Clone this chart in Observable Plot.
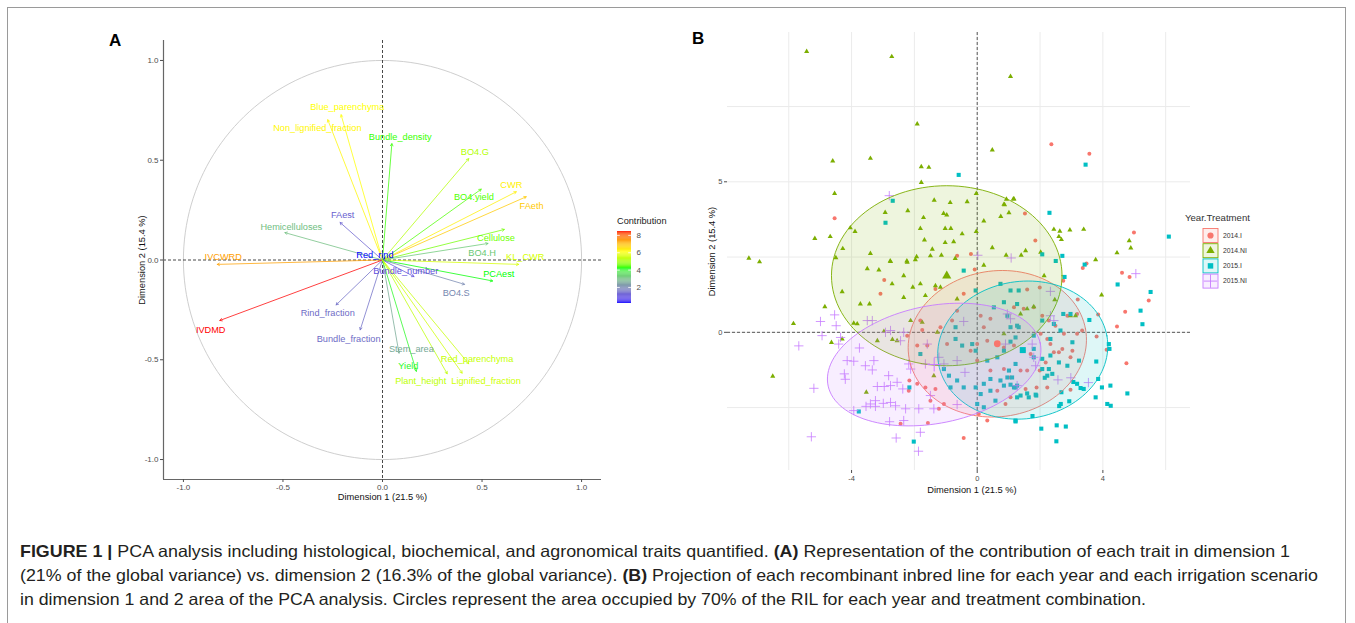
<!DOCTYPE html>
<html><head><meta charset="utf-8">
<script src="https://cdn.jsdelivr.net/npm/d3@7"></script>
<script src="https://cdn.jsdelivr.net/npm/@observablehq/plot@0.6"></script>
<style>
body{margin:0;background:#fff;font-family:"Liberation Sans",Arial,sans-serif;}
#fig{position:relative;width:1355px;height:623px;overflow:hidden;background:#fff;}
</style></head><body><div id="fig"></div>
<script>
// ---------- Panel A data: variable coordinates on Dim1 / Dim2 ----------
const varNames = ["Blue_parenchyma","Non_lignified_fraction","Bundle_density","BO4.G","BO4.yield","CWR","FAeth","Cellulose","BO4.H","KL_CWR","PCAest","BO4.S","Bundle_number","Red_rind","FAest","Hemicelluloses","IVCWRD","IVDMD","Rind_fraction","Bundle_fraction","Stem_area","Yield","Plant_height","Lignified_fraction","Red_parenchyma"];
const varDim1 = [-0.208,-0.275,0.047,0.433,0.496,0.672,0.722,0.612,0.530,0.684,0.553,0.412,0.158,0.012,-0.213,-0.490,-0.830,-0.817,-0.233,-0.112,0.083,0.170,0.325,0.400,0.433];
const varDim2 = [0.728,0.703,0.583,0.508,0.355,0.342,0.317,0.153,0.083,-0.022,-0.105,-0.122,-0.083,0.010,0.188,0.137,-0.022,-0.303,-0.225,-0.350,-0.467,-0.558,-0.570,-0.567,-0.520];
const varContrib = [6.1,6.2,4.3,5.2,4.4,6.3,6.8,4.6,3.2,5.6,4.2,2.0,1.0,0.15,1.3,3.0,7.3,8.45,1.5,1.5,2.6,4.1,5.3,5.5,5.4];
const varLabelDim1 = [-0.177,-0.327,0.089,0.464,0.459,0.647,0.749,0.570,0.500,0.717,0.584,0.370,0.117,-0.038,-0.200,-0.458,-0.800,-0.863,-0.275,-0.170,0.145,0.130,0.192,0.520,0.475];
const varLabelDim2 = [0.765,0.660,0.615,0.540,0.315,0.377,0.272,0.109,0.037,0.014,-0.069,-0.165,-0.054,0.025,0.224,0.167,0.014,-0.350,-0.265,-0.395,-0.445,-0.529,-0.609,-0.609,-0.497];
const axisTicksA = [-1, -0.5, 0, 0.5, 1];
const contribTicks = [2, 4, 6, 8];
const contribStops = [0.15, 4.2, 6.1, 8.45];
const contribStopColors = ["#0000ff", "#00ff00", "#ffff00", "#ff0000"];

// ---------- Panel B data: individuals per Year.Treatment ----------
const groups = ["2014.I", "2014.NI", "2015.I", "2015.NI"];
const pts2014I = [[-4.54,3.79],[-0.64,2.54],[-0.20,2.60],[-0.08,2.09],[2.36,6.25],[3.57,5.93],[4.99,3.32],[1.52,3.95],[1.85,3.05],[3.48,2.29],[3.36,2.14],[4.61,1.98],[4.85,1.84],[5.46,1.06],[4.71,0.68],[4.45,0.19],[3.85,0.59],[2.74,1.71],[1.99,1.49],[1.59,1.42],[3.20,1.09],[4.75,-1.03],[4.12,-0.58],[3.80,-0.14],[-2.96,1.74],[-3.08,1.28],[-1.33,1.44],[-1.81,0.39],[-1.75,0.08],[-2.23,-0.11],[-1.59,-0.44],[-1.91,-0.44],[-2.16,-1.60],[-1.91,-1.71],[-2.18,-1.94],[-1.65,-1.83],[-1.33,-1.88],[-1.49,-2.27],[-1.22,-2.54],[-1.06,-2.38],[-2.44,-3.04],[-1.57,-3.01],[-0.43,-3.51],[-0.96,-0.39],[-1.17,0.17],[-0.80,0.39],[-0.64,0.72],[-0.43,1.28],[0.11,0.55],[0.21,0.17],[0.42,0.45],[0.00,-0.39],[0.32,-0.28],[-0.21,-0.61],[0.00,-0.94],[0.42,-1.27],[0.64,-1.94],[0.32,-2.93],[0.05,-2.71],[1.06,-2.16],[1.17,0.83],[1.48,0.78],[1.80,0.83],[2.02,-0.05],[2.23,-0.22],[2.33,-0.39],[2.44,-0.66],[2.18,-1.00],[1.99,-1.27],[1.70,-0.72],[1.48,-0.61],[1.17,-0.44],[0.85,-0.50],[0.85,-1.22],[1.38,-1.27],[1.59,-1.27],[1.06,-1.50],[2.23,-1.83],[1.54,-1.88],[0.90,-2.38],[2.97,-0.83],[3.03,-0.61],[2.71,-0.55],[2.76,-0.05],[2.60,-0.66],[2.49,0.22],[2.28,0.39],[2.07,0.55],[2.87,0.55],[3.18,0.61],[3.34,0.06],[3.18,-0.05],[1.89,-1.83],[2.97,-1.91]];
const pts2014NI = [[-5.43,9.33],[-2.72,9.16],[1.06,8.50],[-1.91,6.92],[0.48,6.06],[-4.60,5.69],[-3.40,5.78],[-1.78,5.50],[-1.54,5.48],[-1.78,4.98],[-4.54,4.61],[-0.03,4.61],[-2.93,3.98],[-2.21,4.04],[-1.37,4.39],[-0.86,4.31],[-0.32,4.34],[-1.07,3.95],[-0.97,3.90],[-1.71,3.81],[-4.04,3.47],[-3.89,3.35],[-1.81,3.45],[-1.02,3.45],[-0.84,3.45],[-0.48,3.27],[-0.03,3.35],[0.21,3.70],[0.93,4.42],[1.15,4.43],[0.85,4.25],[1.01,3.97],[0.75,3.85],[-5.17,3.12],[-4.68,3.18],[-1.68,3.07],[-1.02,2.98],[-0.75,3.01],[-4.28,2.78],[-3.40,2.62],[-1.43,2.76],[0.48,2.81],[-7.27,2.46],[-6.93,2.34],[-4.50,2.48],[-2.77,2.37],[-2.24,2.37],[-1.93,2.51],[-1.49,2.54],[-1.14,2.56],[-0.70,2.45],[0.92,2.56],[0.21,2.23],[-1.97,2.41],[4.84,3.04],[4.89,2.80],[4.45,2.64],[2.44,3.42],[2.63,3.36],[2.95,3.40],[3.39,3.42],[2.60,3.18],[2.68,3.08],[1.54,2.71],[2.02,2.66],[1.40,2.56],[1.17,4.43],[0.87,4.24],[3.77,2.41],[3.96,1.24],[2.13,1.88],[2.47,1.08],[-5.85,0.29],[-4.85,0.85],[-4.64,-0.34],[-4.30,-0.22],[-4.30,1.35],[-3.93,0.30],[-3.82,0.28],[-3.53,-1.99],[-6.51,-1.46],[-3.43,0.94],[-3.72,0.94],[-3.50,2.11],[-3.13,2.07],[-2.76,2.35],[-2.23,2.33],[-2.34,1.88],[-2.71,1.61],[-2.05,1.50],[-1.81,1.61],[-1.65,1.22],[-1.33,1.55],[-1.17,1.50],[-2.34,1.16],[-2.97,0.03],[-2.70,-0.24],[-2.12,0.39],[-1.75,0.33],[-1.27,0.00],[-3.18,-0.28],[-2.55,-0.28],[-1.38,-1.44],[-0.64,1.11],[1.80,0.85],[1.59,0.78],[2.97,0.55],[3.13,0.55],[0.85,-0.05],[1.38,0.61]];
const pts2015I = [[-0.59,5.23],[-2.69,4.37],[-2.92,3.64],[3.45,5.57],[2.30,3.97],[6.10,3.18],[2.71,2.54],[2.50,2.37],[2.07,2.59],[3.42,2.25],[4.47,1.59],[5.52,1.34],[5.20,0.72],[5.26,0.27],[2.78,1.84],[4.78,-2.03],[4.24,-1.77],[3.97,-1.83],[3.85,-1.55],[3.77,-2.16],[4.14,-2.38],[4.25,-2.44],[3.79,-0.97],[4.19,-0.39],[4.21,-0.55],[3.57,0.41],[1.76,-2.78],[1.22,-2.96],[2.04,-3.20],[2.53,-3.09],[2.82,-3.13],[2.52,-3.62],[2.61,-2.45],[2.66,-2.38],[2.93,-2.29],[2.68,-1.99],[3.06,-1.65],[3.18,-1.71],[3.29,-1.85],[3.39,-1.88],[2.15,-1.51],[1.88,-2.10],[1.59,-2.03],[-2.16,-1.83],[-3.77,-2.63],[-2.02,-3.63],[-1.81,-0.72],[-1.06,-1.22],[-0.90,-1.44],[-0.64,-1.60],[-0.85,-1.83],[-0.43,-1.83],[-0.05,-1.83],[0.11,-2.05],[0.21,-1.71],[0.42,-1.55],[0.74,-1.60],[0.96,-1.50],[1.06,-1.74],[1.22,-1.83],[1.27,-2.16],[0.42,-1.94],[0.58,-2.27],[0.00,-2.38],[0.21,-2.49],[1.22,-2.93],[-0.43,2.05],[-0.05,1.39],[0.53,0.83],[0.85,1.00],[-0.69,-0.22],[-0.69,0.17],[-0.48,-0.44],[-0.16,-0.39],[-0.05,-0.61],[0.32,-0.94],[0.64,-0.83],[0.85,-0.61],[1.06,-0.31],[1.22,-0.17],[1.32,0.17],[1.06,0.17],[1.27,0.94],[0.74,1.61],[1.06,1.39],[1.32,1.39],[0.96,0.55],[1.27,0.22],[1.80,-0.11],[2.07,0.39],[2.44,0.28],[2.74,0.61],[2.97,0.61],[2.65,0.06],[2.33,-0.22],[1.80,-0.55],[1.80,-0.83],[2.07,-0.88],[2.33,-0.77],[2.60,-1.00],[2.28,-1.22],[2.07,-1.22],[2.87,-1.11],[3.03,-0.33],[3.24,-0.94],[2.39,-1.38],[2.23,-1.44],[1.22,-1.05],[1.01,-1.27],[1.11,-1.50],[1.27,-1.77],[1.17,-1.83],[1.64,-2.16],[1.86,-2.07],[1.38,-2.10],[0.85,-1.77]];
const pts2015NI = [[-2.80,4.54],[0.02,2.56],[1.08,2.47],[5.05,1.95],[2.33,1.36],[-4.99,0.36],[-4.49,0.22],[-4.94,-0.11],[-5.68,-0.45],[-4.41,-0.39],[-4.54,0.58],[-4.35,-0.17],[-4.14,-0.94],[-3.93,-0.96],[-4.23,-1.38],[-4.20,-1.56],[-3.56,-1.11],[-3.29,-0.94],[-3.34,-1.25],[-3.75,-0.52],[-3.50,0.39],[-3.34,0.39],[-2.92,0.00],[-2.76,0.06],[-2.82,-1.44],[-3.18,-1.80],[-2.96,-1.80],[-2.76,-1.77],[-2.55,-1.66],[-2.37,-1.88],[-3.40,-2.38],[-3.24,-2.27],[-3.24,-2.46],[-2.99,-2.36],[-2.76,-2.33],[-2.60,-2.44],[-2.28,-2.54],[-3.93,-2.60],[-3.54,-2.46],[-2.79,-2.97],[-2.34,-2.93],[-1.81,-3.32],[-2.58,-3.51],[-1.87,-3.95],[-5.28,-3.47],[-5.20,-1.86],[-2.34,0.00],[-2.44,-0.28],[-2.18,-1.05],[-2.12,-1.22],[-1.65,-1.05],[-1.59,-0.39],[-1.22,-0.83],[-1.06,-1.05],[-0.64,-0.94],[-0.43,0.36],[-0.39,-1.33],[-0.64,-2.40],[-1.38,-2.54],[-1.86,-2.54],[-1.49,-2.10],[1.06,0.45],[2.33,0.55],[2.44,0.39],[1.80,-0.83],[1.75,-0.39],[1.86,-1.11],[1.27,-1.77],[0.96,0.61],[0.90,-0.39],[3.54,-1.67],[2.98,-1.51],[2.57,-1.58]];
// 70% ellipses: centre (= group mean), semi-axes and tilt (degrees)
const ellipseCx = [0.64, -0.97, 1.45, -1.37];
const ellipseCy = [-0.38, 1.88, -0.59, -1.07];
const ellipseA = [2.85, 3.67, 2.72, 3.45];
const ellipseB = [2.42, 2.99, 2.28, 1.95];
const ellipseAngle = [10, 0, 10, 12];
const xTicksB = [-4, 0, 4];
const yTicksB = [0, 5];
const xGridB = [-6, -4, -2, 0, 2, 4, 6];
const yGridB = [-2.5, 0, 2.5, 5, 7.5];

// ---------- styles ----------
const groupColors = ["#F8766D", "#7CAE00", "#00BFC4", "#C77CFF"];
const groupSymbols = ["circle", "triangle", "square", "plus"];
const FONT = "'Liberation Sans', Arial, sans-serif";

const fig = document.getElementById("fig");
function place(el, left, top) {
  el.style.position = "absolute"; el.style.left = left + "px"; el.style.top = top + "px";
  fig.appendChild(el); return el;
}
function label(txt, left, top, css) {
  const d = document.createElement("div"); d.textContent = txt;
  d.style.cssText = `font-family:${FONT};white-space:nowrap;line-height:1;` + css;
  return place(d, left, top);
}

// border
const border = document.createElement("div");
border.style.cssText = "border:1px solid #9a9a9a;width:1339px;height:640px;box-sizing:border-box;";
place(border, 7, 7);

// ================= Panel A =================
const contribColor = d3.scaleLinear().domain(contribStops).range(contribStopColors).interpolate(d3.interpolateLab);
const vars = varNames.map((n, i) => ({name: n, x: varDim1[i], y: varDim2[i], c: varContrib[i], lx: varLabelDim1[i], ly: varLabelDim2[i]}));
const unitCircle = d3.range(0, 361, 2).map(a => ({x: Math.cos(a * Math.PI / 180), y: Math.sin(a * Math.PI / 180)}));

const plotA = Plot.plot({
  width: 680, height: 520,
  marginLeft: 163, marginRight: 79, marginTop: 40, marginBottom: 41,
  x: {domain: [-1.1, 1.1]}, y: {domain: [-1.1, 1.1]},
  style: {fontFamily: FONT, background: "transparent", overflow: "visible"},
  marks: [
    Plot.line(unitCircle, {x: "x", y: "y", stroke: "#c8c8c8", strokeWidth: 0.9}),
    Plot.ruleX([0], {stroke: "#333", strokeDasharray: "3,2", strokeWidth: 0.9}),
    Plot.ruleY([0], {stroke: "#333", strokeDasharray: "3,2", strokeWidth: 0.9}),
    Plot.arrow(vars, {x1: () => 0, y1: () => 0, x2: "x", y2: "y", stroke: d => contribColor(d.c), strokeWidth: 0.75, headLength: 5, headAngle: 60}),
    Plot.text(vars, {x: "lx", y: "ly", text: "name", fill: d => contribColor(d.c), fontSize: 9.2}),
    Plot.ruleX([-1.1], {stroke: "#666", strokeWidth: 1.2}),
    Plot.ruleY([-1.1], {stroke: "#666", strokeWidth: 1.2}),
    Plot.axisX({ticks: axisTicksA, tickFormat: d => d.toFixed(1), tickSize: 3, tickPadding: 2, fontSize: 8, color: "#4d4d4d", label: null}),
    Plot.axisY({ticks: axisTicksA, tickFormat: d => d.toFixed(1), tickSize: 3, tickPadding: 2, fontSize: 8, color: "#4d4d4d", label: null}),
    Plot.text(["Dimension 1 (21.5 %)"], {frameAnchor: "bottom", dy: 18, lineAnchor: "middle", textAnchor: "middle", fontSize: 9.3, fill: "#111"}),
    Plot.text(["Dimension 2 (15.4 %)"], {frameAnchor: "left", dx: -21, rotate: -90, textAnchor: "middle", lineAnchor: "middle", fontSize: 9.3, fill: "#111"})
  ]
});
place(plotA, 0, 0);
label("A", 109, 32, "font-size:17px;font-weight:bold;color:#000;");

// colour bar
const cMin = d3.min(varContrib), cMax = d3.max(varContrib);
const nCells = 80;
const cells = d3.range(nCells).map(i => {
  const v0 = cMin + (cMax - cMin) * i / nCells, v1 = cMin + (cMax - cMin) * (i + 1) / nCells;
  return {v0, v1, col: contribColor((v0 + v1) / 2)};
});
const bar = Plot.plot({
  width: 60, height: 100, marginLeft: 7, marginRight: 39, marginTop: 16, marginBottom: 12,
  x: {domain: [0, 1], axis: null}, y: {domain: [cMin, cMax]},
  style: {fontFamily: FONT, background: "transparent", overflow: "visible"},
  marks: [
    Plot.rect(cells, {x1: () => 0, x2: () => 1, y1: "v0", y2: "v1", fill: "col"}),
    Plot.ruleY(contribTicks, {x1: () => 0, x2: () => 0.2, stroke: "white", strokeWidth: 0.8}),
    Plot.ruleY(contribTicks, {x1: () => 0.8, x2: () => 1, stroke: "white", strokeWidth: 0.8}),
    Plot.axisY({anchor: "right", ticks: contribTicks, tickSize: 0, tickPadding: 5, fontSize: 8, color: "#4d4d4d", label: null})
  ]
});
place(bar, 610, 215);
label("Contribution", 617, 217, "font-size:9.2px;color:#222;");

// ================= Panel B =================
const groupPts = [pts2014I, pts2014NI, pts2015I, pts2015NI];
const ellipses = groups.map((g, i) => {
  const th = ellipseAngle[i] * Math.PI / 180;
  return d3.range(0, 121).map(k => {
    const t = 2 * Math.PI * k / 120;
    const ex = ellipseA[i] * Math.cos(t), ey = ellipseB[i] * Math.sin(t);
    return {x: ellipseCx[i] + ex * Math.cos(th) - ey * Math.sin(th), y: ellipseCy[i] + ex * Math.sin(th) + ey * Math.cos(th)};
  });
});
const pointMarks = groups.map((g, i) => {
  const data = groupPts[i].map(([x, y]) => ({x, y}));
  return groupSymbols[i] === "plus"
    ? Plot.dot(data, {x: "x", y: "y", symbol: () => "plus", stroke: groupColors[i], r: 3.1, strokeWidth: 0.8})
    : Plot.dot(data, {x: "x", y: "y", symbol: () => groupSymbols[i], fill: groupColors[i], stroke: "none", r: groupSymbols[i] === "circle" ? 2 : groupSymbols[i] === "square" ? 2.3 : 1.9});
});
const ellipseMarks = groups.map((g, i) => Plot.line(ellipses[i], {x: "x", y: "y", stroke: groupColors[i], strokeWidth: 0.9, fill: groupColors[i], fillOpacity: 0.13, curve: "linear-closed"}));
const meanMarks = groups.map((g, i) => groupSymbols[i] === "plus"
  ? Plot.dot([{x: ellipseCx[i], y: ellipseCy[i]}], {x: "x", y: "y", symbol: () => "plus", stroke: groupColors[i], r: 4.5, strokeWidth: 1})
  : Plot.dot([{x: ellipseCx[i], y: ellipseCy[i]}], {x: "x", y: "y", symbol: () => groupSymbols[i], fill: groupColors[i], stroke: "none", r: 3.4}));

const plotB = Plot.plot({
  width: 600, height: 520,
  marginLeft: 37, marginRight: 100, marginTop: 32, marginBottom: 50,
  x: {domain: [-7.95, 6.79]}, y: {domain: [-4.59, 9.96]},
  style: {fontFamily: FONT, background: "transparent", overflow: "visible"},
  marks: [
    Plot.ruleX(xGridB, {stroke: "#ebebeb", strokeWidth: 1}),
    Plot.ruleY(yGridB, {stroke: "#ebebeb", strokeWidth: 1}),
    Plot.ruleX([0], {stroke: "#444", strokeDasharray: "3,2", strokeWidth: 0.9}),
    Plot.ruleY([0], {stroke: "#444", strokeDasharray: "3,2", strokeWidth: 0.9}),
    ...pointMarks,
    ...ellipseMarks,
    ...meanMarks,
    Plot.axisX({ticks: xTicksB, tickFormat: d => String(d), tickSize: 3, tickPadding: 2, fontSize: 7.5, color: "#4d4d4d", label: null}),
    Plot.axisY({ticks: yTicksB, tickFormat: d => String(d), tickSize: 3, tickPadding: 2, fontSize: 7.5, color: "#4d4d4d", label: null}),
    Plot.text(["Dimension 1 (21.5 %)"], {frameAnchor: "bottom", dy: 20, dx: 13, lineAnchor: "middle", textAnchor: "middle", fontSize: 9.3, fill: "#111"}),
    Plot.text(["Dimension 2 (15.4 %)"], {frameAnchor: "left", dx: -15, rotate: -90, textAnchor: "middle", lineAnchor: "middle", fontSize: 9.3, fill: "#111"})
  ]
});
place(plotB, 690, 0);
label("B", 692, 30, "font-size:17px;font-weight:bold;color:#000;");

// legend B
label("Year.Treatment", 1185, 213, "font-size:9.6px;color:#333;");
const leg = d3.create("svg").attr("width", 80).attr("height", 70).style("overflow", "visible");
groups.forEach((g, i) => {
  const cy = 7.5 + i * 15.2;
  leg.append("rect").attr("x", 1).attr("y", cy - 7).attr("width", 15).attr("height", 14)
    .attr("fill", groupColors[i]).attr("fill-opacity", 0.13).attr("stroke", groupColors[i]).attr("stroke-width", 0.9);
  const symType = {circle: d3.symbolCircle, triangle: d3.symbolTriangle, square: d3.symbolSquare, plus: d3.symbolPlus}[groupSymbols[i]];
  const p = leg.append("path").attr("transform", `translate(8.5,${cy})`).attr("d", d3.symbol(symType, groupSymbols[i] === "plus" ? 60 : 30)());
  if (groupSymbols[i] === "plus") p.attr("fill", "none").attr("stroke", groupColors[i]).attr("stroke-width", 0.9);
  else p.attr("fill", groupColors[i]);
  leg.append("text").attr("x", 21).attr("y", cy).attr("dy", "0.35em").attr("font-size", 6.8)
    .attr("font-family", FONT).attr("fill", "#333").text(g);
});
place(leg.node(), 1202, 228);

// ================= Caption =================
const capLines = [
  [["FIGURE 1 | ", true], ["PCA analysis including histological, biochemical, and agronomical traits quantified. ", false], ["(A)", true], [" Representation of the contribution of each trait in dimension 1", false]],
  [["(21% of the global variance) vs. dimension 2 (16.3% of the global variance). ", false], ["(B)", true], [" Projection of each recombinant inbred line for each year and each irrigation scenario", false]],
  [["in dimension 1 and 2 area of the PCA analysis. Circles represent the area occupied by 70% of the RIL for each year and treatment combination.", false]]
];
const capWidths = [1270, 1298, 1126];
const capBase = [27, 51, 75];
const cap = d3.create("svg").attr("width", 1355).attr("height", 90);
capLines.forEach((parts, i) => {
  const t = cap.append("text").attr("x", 20).attr("y", capBase[i]).attr("font-size", 16.5)
    .attr("font-family", "'Liberation Sans Narrow','Liberation Sans',Arial,sans-serif").attr("fill", "#231f20")
    .attr("textLength", capWidths[i]).attr("lengthAdjust", "spacingAndGlyphs");
  parts.forEach(([s, b]) => t.append("tspan").attr("font-weight", b ? "bold" : "normal").text(s));
});
place(cap.node(), 0, 530);
</script></body></html>
